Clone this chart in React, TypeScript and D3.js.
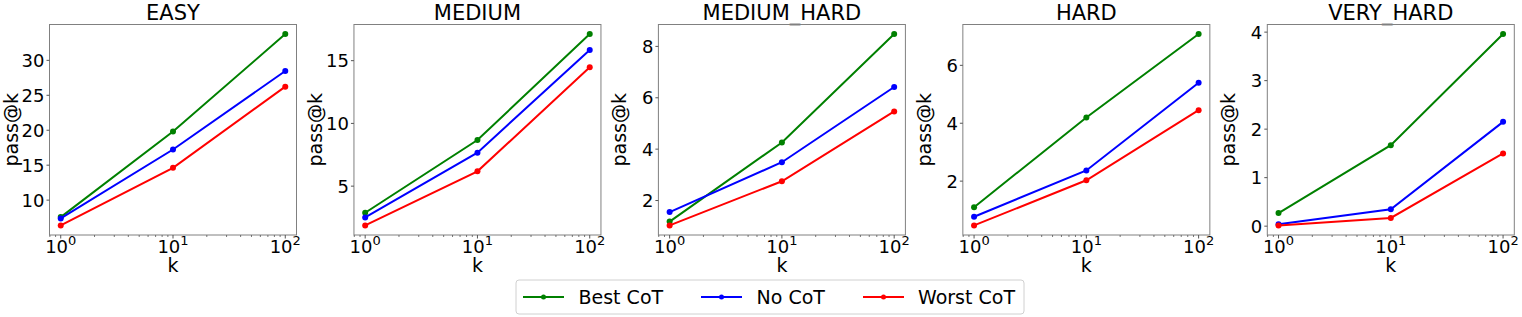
import React from 'react';
import * as d3 from 'd3';

const kValues = [1, 10, 100];
const panelTitles = ['EASY', 'MEDIUM', 'MEDIUM_HARD', 'HARD', 'VERY_HARD'];
const bestCoT = [
  [7.57, 19.81, 33.76],
  [2.88, 8.68, 17.12],
  [1.18, 4.26, 8.48],
  [1.1, 4.2, 7.08],
  [0.27, 1.67, 3.96],
];
const noCoT = [
  [7.38, 17.24, 28.48],
  [2.51, 7.67, 15.85],
  [1.55, 3.49, 6.42],
  [0.77, 2.37, 5.4],
  [0.04, 0.35, 2.15],
];
const worstCoT = [
  [6.38, 14.62, 26.24],
  [1.87, 6.18, 14.47],
  [1.03, 2.75, 5.47],
  [0.47, 2.03, 4.45],
  [0.015, 0.17, 1.5],
];
const yTicks = [
  [10, 15, 20, 25, 30],
  [5, 10, 15],
  [2, 4, 6, 8],
  [2, 4, 6],
  [0, 1, 2, 3, 4],
];
const xMajorExps = [0, 1, 2];
const seriesNames = ['Best CoT', 'No CoT', 'Worst CoT'];
const seriesColors = ['green', 'blue', 'red'];
const seriesData = [bestCoT, noCoT, worstCoT];

const W = 1522;
const H = 317;
const FONT = 'DejaVu Sans, sans-serif';
const AX_TOP = 24.5;
const AX_BOTTOM = 235;
const AX_W = 247;
const AX_LEFT0 = 49.5;
const AX_STEP = 304.45;
const SPINE = '#808080';
const TICK = '#555';

function Panel({ idx }: { idx: number }) {
  const left = AX_LEFT0 + idx * AX_STEP;
  const right = left + AX_W;
  const x = d3.scaleLog().domain([Math.pow(10, -0.1), Math.pow(10, 2.1)]).range([left, right]);
  const all = seriesData.flatMap((s) => s[idx]);
  const mn = d3.min(all) as number;
  const mx = d3.max(all) as number;
  const pad = (mx - mn) * 0.05;
  const y = d3.scaleLinear().domain([mn - pad, mx + pad]).range([AX_BOTTOM, AX_TOP]);
  const line = d3
    .line<number>()
    .x((_, i) => x(kValues[i]))
    .y((d) => y(d));
  const minor: number[] = [];
  for (const dec of [0.1, 1, 10]) {
    for (let m = 2; m <= 9; m++) {
      const v = dec * m;
      if (v >= x.domain()[0] && v <= x.domain()[1]) minor.push(v);
    }
  }
  const cx = (left + right) / 2;
  const cy = (AX_TOP + AX_BOTTOM) / 2;
  return (
    <g>
      <text x={cx} y={20} textAnchor="middle" fontSize={21} fontFamily={FONT} fill="#000">
        {panelTitles[idx]}
      </text>
      {seriesData.map((s, si) => (
        <g key={si}>
          <path d={line(s[idx]) || ''} fill="none" stroke={seriesColors[si]} strokeWidth={2} />
          {s[idx].map((v, i) => (
            <circle key={i} cx={x(kValues[i])} cy={y(v)} r={3} fill={seriesColors[si]} />
          ))}
        </g>
      ))}
      <rect x={left} y={AX_TOP} width={AX_W} height={AX_BOTTOM - AX_TOP} fill="none" stroke={SPINE} strokeWidth={1} />
      {yTicks[idx].map((t) => (
        <g key={t}>
          <line x1={left - 3} x2={left} y1={y(t)} y2={y(t)} stroke={TICK} strokeWidth={1} />
          <text x={left - 5} y={y(t)} dy="0.36em" textAnchor="end" fontSize={18} fontFamily={FONT} fill="#000">
            {t}
          </text>
        </g>
      ))}
      {minor.map((v) => (
        <line key={v} x1={x(v)} x2={x(v)} y1={AX_BOTTOM} y2={AX_BOTTOM + 2} stroke={TICK} strokeWidth={0.8} />
      ))}
      {xMajorExps.map((e) => (
        <g key={e}>
          <line x1={x(Math.pow(10, e))} x2={x(Math.pow(10, e))} y1={AX_BOTTOM} y2={AX_BOTTOM + 3.5} stroke={TICK} strokeWidth={1} />
          <text x={x(Math.pow(10, e))} y={252.5} textAnchor="middle" fontSize={18} fontFamily={FONT} fill="#000">
            <tspan>10</tspan>
            <tspan fontSize={13} dy={-7.5}>{e}</tspan>
          </text>
        </g>
      ))}
      <text x={cx} y={271.5} textAnchor="middle" fontSize={19} fontFamily={FONT} fill="#000">
        k
      </text>
      <text
        transform={`translate(${left - 32},${cy}) rotate(-90)`}
        textAnchor="middle"
        fontSize={19}
        fontFamily={FONT}
        fill="#000"
      >
        pass@k
      </text>
    </g>
  );
}

function Legend() {
  const lineStarts = [523, 701, 863];
  const textStarts = [578.5, 756.5, 918];
  const ly = 297;
  return (
    <g>
      <rect x={516} y={280} width={508} height={34} rx={3} fill="#fff" stroke="#d0d0d0" strokeWidth={1} />
      {seriesNames.map((n, i) => (
        <g key={n}>
          <line x1={lineStarts[i]} x2={lineStarts[i] + 41} y1={ly} y2={ly} stroke={seriesColors[i]} strokeWidth={2} />
          <circle cx={lineStarts[i] + 20.5} cy={ly} r={2.5} fill={seriesColors[i]} />
          <text x={textStarts[i]} y={ly} dy="0.36em" fontSize={19} fontFamily={FONT} fill="#000">
            {n}
          </text>
        </g>
      ))}
    </g>
  );
}

export default function App() {
  return (
    <div style={{ position: 'absolute', left: 0, top: 0 }}>
      <svg width={W} height={H} style={{ display: 'block', background: '#fff' }}>
        <rect x={0} y={0} width={W} height={H} fill="#fff" />
        {panelTitles.map((_, i) => (
          <Panel key={i} idx={i} />
        ))}
        <Legend />
      </svg>
    </div>
  );
}
